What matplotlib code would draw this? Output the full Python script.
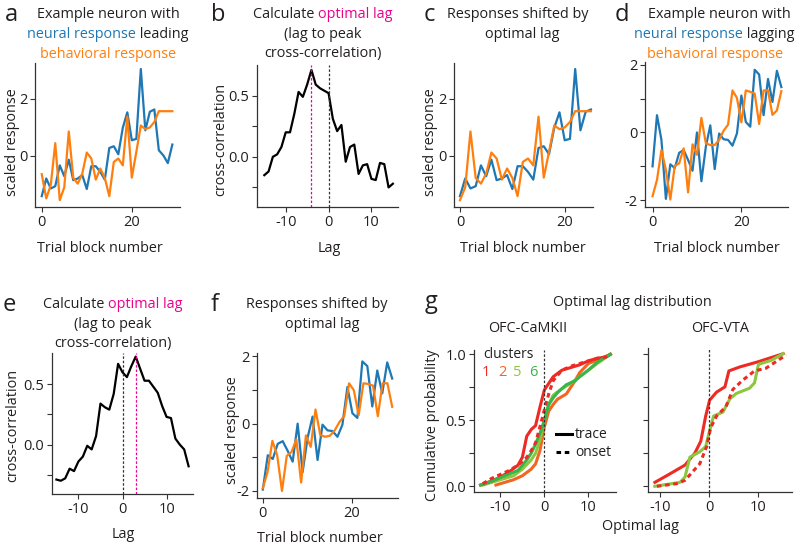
import numpy as np
import matplotlib
matplotlib.use("Agg")
import matplotlib.pyplot as plt

plt.rcParams["font.family"] = ["Open Sans", "DejaVu Sans"]
plt.rcParams["axes.unicode_minus"] = False

BLUE, ORANGE, PINK = "#1f77b4", "#ff7f0e", "#ec008c"
C1, C2, C5, C6 = "#ed2a24", "#f26522", "#8dc63f", "#3ab54a"
TXT = "#231f20"
FS = 10.4

# ---- panel a: neuron leading behaviour ----
a_neural = [-1.41, -0.79, -1.14, -1.06, -0.33, -0.71, -0.13, -0.85, -0.79, -0.67,
            -1.16, -0.36, -0.36, -0.56, -0.83, 0.28, 0.34, 0.06, 0.99, 1.53,
            0.55, 0.6, 3.05, 0.9, 1.55, 1.63, 0.2, 0.02, -0.25, 0.4]
a_behav = [-0.64, -1.49, -1.02, 0.45, -1.55, -1.1, 0.86, -0.77, -0.97, -0.62,
           0.12, -0.09, -0.83, -0.44, -0.77, -1.41, -0.21, -0.09, -0.33, 1.38,
           -0.76, 0.14, 1.07, 0.94, 1.0, 1.19, 1.57, 1.57, 1.57, 1.57]

# ---- panel b: cross-correlation, peak at lag -4 ----
b_lag = list(range(-15, 16))
b_xcorr = [-0.15, -0.12, 0.0, 0.02, 0.08, 0.2, 0.2, 0.35, 0.53, 0.49,
           0.59, 0.71, 0.59, 0.56, 0.54, 0.52, 0.31, 0.21, 0.26, -0.04,
           0.08, 0.1, -0.14, -0.07, -0.06, -0.18, -0.19, -0.05, -0.06, -0.25, -0.22]
b_opt = -4

# ---- panel c: shifted by optimal lag ----
c_neural = [-1.41, -0.79, -1.14, -1.06, -0.33, -0.71, -0.13, -0.85, -0.79, -0.67,
            -1.16, -0.36, -0.36, -0.56, -0.83, 0.28, 0.34, 0.06, 0.99, 1.53,
            0.55, 0.6, 3.05, 0.9, 1.55, 1.63]
c_behav = [-1.55, -1.1, 0.86, -0.77, -0.97, -0.62, 0.12, -0.09, -0.83, -0.44,
           -0.77, -1.41, -0.21, -0.09, -0.33, 1.38, -0.76, 0.14, 1.07, 0.94,
           1.0, 1.19, 1.57, 1.57, 1.57, 1.57]

# ---- panel d: neuron lagging behaviour ----
d_neural = [-1.0, 0.51, -0.22, -1.96, -0.94, -1.05, -0.6, -0.52, -0.81, -1.13,
            0.0, -1.44, -0.42, 0.21, -1.08, -0.03, -0.2, -0.22, -0.39, -0.03,
            1.09, 0.31, 0.17, 1.85, 1.71, 0.51, 1.58, 0.9, 1.82, 1.34]
d_behav = [-1.88, -1.4, -0.52, -1.1, -1.98, -0.99, -0.91, -0.47, -1.77, -0.35,
           -0.66, 0.43, -0.32, -0.37, -0.37, -0.22, 0.05, 0.23, 1.24, 1.02,
           0.3, 1.24, 1.2, 1.15, 0.25, 1.24, 1.24, 0.52, 0.65, 1.22]

# ---- panel e: cross-correlation, peak at lag +3 ----
e_lag = list(range(-15, 16))
e_xcorr = [-0.29, -0.3, -0.28, -0.2, -0.22, -0.14, -0.1, -0.01, -0.04, 0.07,
           0.34, 0.31, 0.29, 0.42, 0.67, 0.6, 0.56, 0.65, 0.73, 0.63,
           0.53, 0.53, 0.48, 0.43, 0.32, 0.23, 0.22, 0.05, 0.0, -0.04, -0.18]
e_opt = 3

# ---- panel f: shifted by optimal lag (series spread over blocks 0-29) ----
f_neural = [-1.96, -0.94, -1.05, -0.6, -0.52, -0.81, -1.13, 0.0, -1.44, -0.42,
            0.21, -1.08, -0.03, -0.2, -0.22, -0.39, -0.03, 1.09, 0.31, 0.17,
            1.85, 1.71, 0.51, 1.58, 0.9, 1.82, 1.34]
f_behav = [-1.92, -1.43, -0.51, -0.94, -2.0, -0.96, -0.84, -0.47, -1.75, -0.35,
           -0.69, 0.42, -0.34, -0.39, -0.36, -0.2, 0.05, 0.23, 1.2, 0.99,
           0.25, 1.2, 1.18, 1.13, 0.22, 1.2, 1.2, 0.5]
f_last_block = 29

# ---- panel g: cumulative optimal-lag distributions ----
g1_c1_x = [-14.5, -12, -10, -8, -6, -5, -4, -3, -2, -1, 0, 1, 2, 4, 6, 8, 10, 12, 14, 15]
g1_c1_y = [0.01, 0.04, 0.07, 0.11, 0.16, 0.22, 0.38, 0.43, 0.46, 0.6, 0.73, 0.78, 0.83,
           0.88, 0.9, 0.92, 0.95, 0.97, 0.98, 1.0]
g1_c1on_x = [-14, -12, -10, -8, -6, -4, -3, -2, -1, 0, 1, 2, 4, 6, 8, 10, 12, 14, 15]
g1_c1on_y = [0.02, 0.06, 0.09, 0.12, 0.16, 0.22, 0.27, 0.33, 0.45, 0.58, 0.7, 0.8, 0.88,
             0.91, 0.93, 0.95, 0.97, 0.98, 1.0]
g1_c2_x = [-11, -9, -7, -5, -3, -2, -1, 0, 1, 2, 3, 5, 6, 7, 8, 10, 13, 15]
g1_c2_y = [0.01, 0.03, 0.05, 0.08, 0.13, 0.17, 0.27, 0.45, 0.57, 0.62, 0.66, 0.7, 0.75,
           0.8, 0.86, 0.93, 0.97, 1.0]
g1_c5_x = [-14, -10, -7, -5, -3, -2, -1, 0, 1, 2, 4, 6, 8, 10, 12, 15]
g1_c5_y = [0.01, 0.05, 0.08, 0.13, 0.2, 0.25, 0.35, 0.5, 0.62, 0.69, 0.74, 0.78, 0.83,
           0.88, 0.93, 1.0]
g1_c6_x = [-14.5, -12, -9, -6, -4, -3, -2, -1, 0, 1, 2, 3, 5, 7, 8, 10, 12, 15]
g1_c6_y = [0.01, 0.04, 0.08, 0.12, 0.2, 0.25, 0.32, 0.4, 0.5, 0.62, 0.67, 0.71, 0.77,
           0.8, 0.83, 0.88, 0.94, 1.0]

g2_c1_x = [-11, -8.6, -4.9, -2.9, -1.7, -0.7, 0.1, 1.5, 3.2, 4, 6.2, 10, 15]
g2_c1_y = [0.03, 0.08, 0.16, 0.25, 0.34, 0.53, 0.65, 0.71, 0.75, 0.87, 0.9, 0.94, 1.0]
g2_c5_x = [-11, -5.9, -4.9, -3.9, -1.9, -0.7, 0.1, 0.9, 2.8, 4.2, 5.5, 8.2, 9.2, 10, 12.6, 15]
g2_c5_y = [0.0, 0.03, 0.07, 0.22, 0.26, 0.3, 0.42, 0.53, 0.56, 0.66, 0.7, 0.74, 0.78,
           0.92, 0.95, 1.0]
g2_c1on_x = [-10.6, -6.6, -4.9, -1.9, -0.5, 0.3, 1.5, 3.4, 4.8, 6.8, 9.2, 11.5, 15.6]
g2_c1on_y = [0.0, 0.02, 0.045, 0.17, 0.3, 0.44, 0.53, 0.6, 0.73, 0.8, 0.87, 0.89, 0.99]

W, H = 800, 551
fig = plt.figure(figsize=(W / 100, H / 100), dpi=100)


def px_axes(l, t, r, b):
    ax = fig.add_axes([l / W, 1 - b / H, (r - l) / W, (b - t) / H])
    for s in ("top", "right"):
        ax.spines[s].set_visible(False)
    for s in ("left", "bottom"):
        ax.spines[s].set_linewidth(0.9)
        ax.spines[s].set_color("#333333")
    ax.tick_params(direction="out", length=3.5, width=0.8, labelsize=10.5,
                   colors="#333333", labelcolor=TXT, pad=2)
    return ax


def ftext(x, y, s, **kw):
    kw.setdefault("color", TXT)
    kw.setdefault("ha", "center")
    kw.setdefault("va", "center")
    kw.setdefault("fontsize", FS)
    return fig.text(x / W, 1 - y / H, s, **kw)


def color_line(x, y, parts, size=FS):
    r = fig.canvas.get_renderer()
    ts = [fig.text(0, 1 - y / H, s, color=c, fontsize=size, va="center") for s, c in parts]
    ws = [t.get_window_extent(r).width for t in ts]
    x0 = x - sum(ws) / 2
    for t, w in zip(ts, ws):
        t.set_x(x0 / W)
        x0 += w


# panel a
ax = px_axes(35, 63, 180, 207)
ax.plot(range(len(a_neural)), a_neural, color=BLUE, lw=1.6)
ax.plot(range(len(a_behav)), a_behav, color=ORANGE, lw=1.6)
ax.set_xlim(-1.5, 30.7); ax.set_ylim(-1.79, 3.26)
ax.set_xticks([0, 20]); ax.set_yticks([0, 2])
ftext(13, 142, "scaled response", rotation=90)
ftext(100, 248, "Trial block number")
ftext(11, 15, "a", fontsize=17)
color_line(108, 15, [("Example neuron with", TXT)])
color_line(108, 35, [("neural response", BLUE), (" leading", TXT)])
color_line(108, 54, [("behavioral response", ORANGE)])

# panel b
ax = px_axes(257, 65, 398, 207)
ax.plot(b_lag, b_xcorr, color="black", lw=1.6)
ax.axvline(0, color="#333333", lw=0.9, ls=(0, (2, 1.5)))
ax.axvline(b_opt, color=PINK, lw=0.9, ls=(0, (2, 1.5)))
ax.set_xlim(-16.7, 16.2); ax.set_ylim(-0.41, 0.75)
ax.set_xticks([-10, 0, 10])
ax.set_yticks([-0.25, 0, 0.25, 0.5]); ax.set_yticklabels(["", "0.0", "", "0.5"])
ftext(221, 139, "cross-correlation", rotation=90)
ftext(329, 248, "Lag")
ftext(218, 15, "b", fontsize=17)
color_line(323, 15, [("Calculate ", TXT), ("optimal lag", PINK)])
color_line(323, 35, [("(lag to peak", TXT)])
color_line(323, 54, [("cross-correlation)", TXT)])

# panel c
ax = px_axes(454, 63, 593, 207)
ax.plot(range(len(c_neural)), c_neural, color=BLUE, lw=1.6)
ax.plot(range(len(c_behav)), c_behav, color=ORANGE, lw=1.6)
ax.set_xlim(-1.14, 25.4); ax.set_ylim(-1.79, 3.26)
ax.set_xticks([0, 20]); ax.set_yticks([0, 2])
ftext(431, 142, "scaled response", rotation=90)
ftext(523, 248, "Trial block number")
ftext(429, 15, "c", fontsize=17)
color_line(518, 15, [("Responses shifted by", TXT)])
color_line(522, 35, [("optimal lag", TXT)])

# panel d
ax = px_axes(645, 62, 788, 207)
ax.plot(range(len(d_neural)), d_neural, color=BLUE, lw=1.6)
ax.plot(range(len(d_behav)), d_behav, color=ORANGE, lw=1.6)
ax.set_xlim(-1.7, 30.5); ax.set_ylim(-2.2, 2.08)
ax.set_xticks([0, 20])
ax.set_yticks([-2, -1, 0, 1, 2]); ax.set_yticklabels(["-2", "", "0", "", "2"])
ftext(717, 248, "Trial block number")
ftext(622, 15, "d", fontsize=17)
color_line(719, 15, [("Example neuron with", TXT)])
color_line(714, 35, [("neural response", BLUE), (" lagging", TXT)])
color_line(715, 54, [("behavioral response", ORANGE)])

# panel e
ax = px_axes(52, 353, 193, 494)
ax.plot(e_lag, e_xcorr, color="black", lw=1.6)
ax.axvline(0, color="#333333", lw=0.9, ls=(0, (2, 1.5)))
ax.axvline(e_opt, color=PINK, lw=0.9, ls=(0, (2, 1.5)))
ax.set_xlim(-16, 16); ax.set_ylim(-0.41, 0.76)
ax.set_xticks([-10, 0, 10])
ax.set_yticks([-0.25, 0, 0.25, 0.5]); ax.set_yticklabels(["", "0.0", "", "0.5"])
ftext(13, 425, "cross-correlation", rotation=90)
ftext(123, 535, "Lag")
ftext(9, 305, "e", fontsize=17)
color_line(113, 305, [("Calculate ", TXT), ("optimal lag", PINK)])
color_line(113, 325, [("(lag to peak", TXT)])
color_line(113, 344, [("cross-correlation)", TXT)])

# panel f
ax = px_axes(257, 353, 398, 498)
ax.plot(np.linspace(0, f_last_block, len(f_neural)), f_neural, color=BLUE, lw=1.6)
ax.plot(np.linspace(0, f_last_block, len(f_behav)), f_behav, color=ORANGE, lw=1.6)
ax.set_xlim(-1.3, 30.3); ax.set_ylim(-2.21, 2.1)
ax.set_xticks([0, 20])
ax.set_yticks([-2, -1, 0, 1, 2]); ax.set_yticklabels(["-2", "", "0", "", "2"])
ftext(233, 430, "scaled response", rotation=90)
ftext(320, 538, "Trial block number")
ftext(215, 305, "f", fontsize=17)
color_line(317, 305, [("Responses shifted by", TXT)])
color_line(322, 325, [("optimal lag", TXT)])

# panel g
ftext(431, 302, "g", fontsize=17)
ftext(632, 302, "Optimal lag distribution")
ax = px_axes(474, 350, 616, 492)
ax.plot(g1_c2_x, g1_c2_y, color=C2, lw=2.2)
ax.plot(g1_c5_x, g1_c5_y, color=C5, lw=2.2)
ax.plot(g1_c1_x, g1_c1_y, color=C1, lw=2.2)
ax.plot(g1_c6_x, g1_c6_y, color=C6, lw=2.2)
ax.plot(g1_c1on_x, g1_c1on_y, color=C1, lw=2.2, ls=(0, (1.5, 1.2)))
ax.axvline(0, color="#333333", lw=0.9, ls=(0, (2, 1.5)))
ax.set_xlim(-16, 16.3); ax.set_ylim(-0.043, 1.033)
ax.set_xticks([-10, 0, 10])
ax.set_yticks([0, 0.25, 0.5, 0.75, 1]); ax.set_yticklabels(["0.0", "", "0.5", "", "1.0"])
ftext(432, 425, "Cumulative probability", rotation=90)
ftext(528, 329, "OFC-CaMKII")
ftext(508, 355, "clusters", fontsize=10)
for xx, s, c in [(486, "1", C1), (502, "2", C2), (517, "5", C5), (533, "6", C6)]:
    ftext(xx, 373, s, fontsize=10.5, color=c)
fig.add_artist(plt.Line2D([556 / W, 572 / W], [1 - 434 / H] * 2, color="black", lw=2.2))
fig.add_artist(plt.Line2D([556 / W, 572 / W], [1 - 452 / H] * 2, color="black", lw=2.2,
                          ls=(0, (1.5, 1.2))))
ftext(575, 434, "trace", fontsize=10, ha="left")
ftext(575, 452, "onset", fontsize=10, ha="left")

ax = px_axes(648, 348, 792, 492)
ax.plot(g2_c1_x, g2_c1_y, color=C1, lw=2.2)
ax.plot(g2_c5_x, g2_c5_y, color=C5, lw=2.2)
ax.plot(g2_c1on_x, g2_c1on_y, color=C1, lw=2.2, ls=(0, (1.5, 1.2)))
ax.axvline(0, color="#333333", lw=0.9, ls=(0, (2, 1.5)))
ax.set_xlim(-12.4, 16.8); ax.set_ylim(-0.043, 1.043)
ax.set_xticks([-10, 0, 10])
ax.set_yticks([0, 0.25, 0.5, 0.75, 1]); ax.set_yticklabels([])
ftext(720, 329, "OFC-VTA")
ftext(640, 527, "Optimal lag")

fig.savefig("out.png", dpi=100)
